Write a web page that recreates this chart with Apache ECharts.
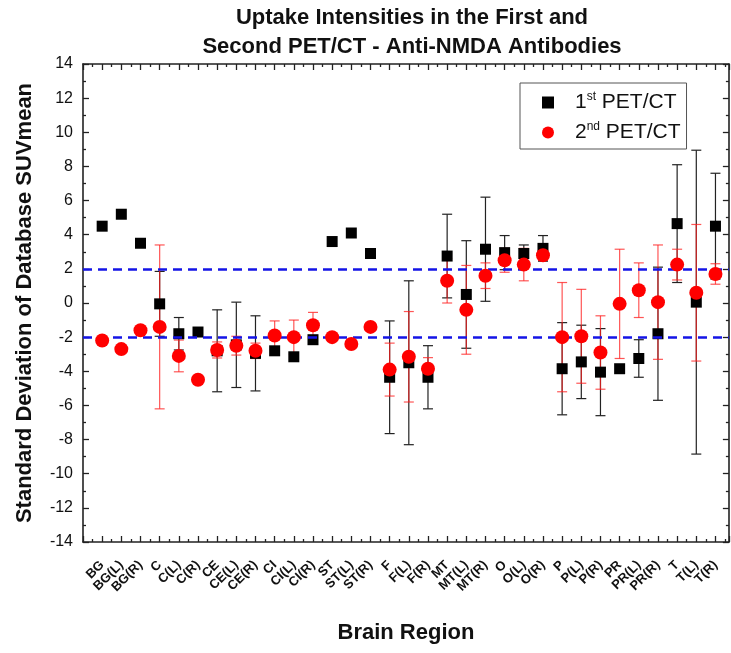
<!DOCTYPE html>
<html>
<head>
<meta charset="utf-8">
<script src="https://cdn.jsdelivr.net/npm/echarts@6/dist/echarts.min.js"></script>
<style>
  html, body { margin: 0; padding: 0; background: #fff; }
  #chart { width: 731px; height: 653px; }
</style>
</head>
<body>
<div id="chart"></div>
<script>
// brain regions, one per x position (1..33)
var regions = ['BG', 'BG(L)', 'BG(R)', 'C', 'C(L)', 'C(R)', 'CE', 'CE(L)', 'CE(R)',
    'CI', 'CI(L)', 'CI(R)', 'ST', 'ST(L)', 'ST(R)', 'F', 'F(L)', 'F(R)',
    'MT', 'MT(L)', 'MT(R)', 'O', 'O(L)', 'O(R)', 'P', 'P(L)', 'P(R)',
    'PR', 'PR(L)', 'PR(R)', 'T', 'T(L)', 'T(R)'];

// 1st PET/CT mean and error (0 = no bar)
var firstMean = [4.5, 5.2, 3.5, -0.05, -1.8, -1.7, -2.8, -2.45, -2.95,
    -2.8, -3.15, -2.15, 3.6, 4.1, 2.9, -4.35, -3.5, -4.35,
    2.75, 0.5, 3.15, 2.95, 2.9, 3.2, -3.85, -3.45, -4.05,
    -3.85, -3.25, -1.8, 4.65, 0.05, 4.5];
var firstErr = [0, 0, 0, 1.9, 0.95, 0, 2.4, 2.5, 2.2,
    0, 0, 0, 0, 0, 0, 3.3, 4.8, 1.85,
    2.45, 3.15, 3.05, 1.0, 0.5, 0.75, 2.7, 2.15, 2.55,
    0, 1.1, 3.9, 3.45, 8.9, 3.1];

// 2nd PET/CT mean and error
var secondMean = [-2.2, -2.7, -1.6, -1.4, -3.1, -4.5, -2.75, -2.5, -2.8,
    -1.9, -2.0, -1.3, -2.0, -2.4, -1.4, -3.9, -3.15, -3.85,
    1.3, -0.4, 1.6, 2.5, 2.25, 2.8, -2.0, -1.95, -2.9,
    -0.05, 0.75, 0.05, 2.25, 0.6, 1.7];
var secondErr = [0, 0, 0, 4.8, 0.93, 0, 0.47, 0.55, 0.45,
    0.85, 1.0, 0.75, 0, 0, 0, 1.55, 2.65, 0.65,
    1.3, 2.6, 0.75, 0.7, 0.95, 0.3, 3.2, 2.75, 2.15,
    3.2, 1.6, 3.35, 0.9, 4.0, 0.6];

var yTicks = [-14, -12, -10, -8, -6, -4, -2, 0, 2, 4, 6, 8, 10, 12, 14];
var limits = [2, -2];

var chart = echarts.init(document.getElementById('chart'));

function points(mean) {
    return mean.map(function (v, i) { return [i + 1, v]; });
}
function errData(mean, err) {
    var out = [];
    mean.forEach(function (v, i) {
        if (err[i] > 0) out.push([i + 1, v - err[i], v + err[i]]);
    });
    return out;
}
function errRender(color) {
    return function (params, api) {
        var lo = api.coord([api.value(0), api.value(1)]);
        var hi = api.coord([api.value(0), api.value(2)]);
        var w = 5;
        var st = { stroke: color, lineWidth: 1.2 };
        return {
            type: 'group',
            children: [
                { type: 'line', shape: { x1: hi[0], y1: hi[1], x2: lo[0], y2: lo[1] }, style: st },
                { type: 'line', shape: { x1: hi[0] - w, y1: hi[1], x2: hi[0] + w, y2: hi[1] }, style: st },
                { type: 'line', shape: { x1: lo[0] - w, y1: lo[1], x2: lo[0] + w, y2: lo[1] }, style: st }
            ]
        };
    };
}

var frameX = {
    type: 'value', min: 0, max: 33.7, interval: 1,
    axisLine: { onZero: false, lineStyle: { color: '#222', width: 1.6 } },
    axisTick: { inside: true, length: 6, lineStyle: { color: '#222', width: 1.3 } },
    minorTick: { show: true, splitNumber: 2, length: 3, lineStyle: { color: '#222', width: 1.3 } },
    splitLine: { show: false }
};

var option = {
    animation: false,
    backgroundColor: '#fff',
    title: {
        text: 'Uptake Intensities in the First and\nSecond PET/CT - Anti-NMDA Antibodies',
        left: 407, top: -2, textAlign: 'center',
        textStyle: {
            fontFamily: 'Liberation Sans, Arial',
            fontSize: 22, fontWeight: 'bold', color: '#111', lineHeight: 29
        }
    },
    legend: {
        orient: 'vertical', left: 520, top: 83,
        padding: [8, 6, 6, 22], itemGap: 8,
        itemWidth: 12, itemHeight: 12,
        borderColor: '#555', borderWidth: 1,
        data: ['1st', '2nd'],
        formatter: function (name) {
            return name === '1st' ? '{n|1}{s|st}{t| PET/CT}' : '{n|2}{s|nd}{t| PET/CT}';
        },
        textStyle: {
            padding: [0, 0, 0, 16],
            rich: {
                n: { fontSize: 21, fontFamily: 'Liberation Sans, Arial', color: '#111' },
                s: { fontSize: 12, fontFamily: 'Liberation Sans, Arial', color: '#111', padding: [0, 0, 11, 0] },
                t: { fontSize: 21, fontFamily: 'Liberation Sans, Arial', color: '#111' }
            }
        }
    },
    grid: { left: 83, top: 64, right: 1, bottom: 111, containLabel: false },
    xAxis: [
        Object.assign({}, frameX, {
            position: 'bottom',
            name: 'Brain Region', nameLocation: 'middle', nameGap: 80,
            nameTextStyle: { fontFamily: 'Liberation Sans, Arial', fontSize: 22, fontWeight: 'bold', color: '#111' },
            axisLabel: {
                rotate: 45, margin: 21, interval: 0,
                fontFamily: 'Liberation Sans, Arial', fontSize: 13, fontWeight: 'bold', color: '#111',
                formatter: function (v) { return regions[Math.round(v) - 1] || ''; }
            }
        }),
        Object.assign({}, frameX, { position: 'top', axisLabel: { show: false } })
    ],
    yAxis: [
        {
            type: 'value', min: -14, max: 14, interval: 2, position: 'left',
            name: 'Standard Deviation of Database SUVmean', nameLocation: 'middle', nameGap: 47,
            nameTextStyle: { fontFamily: 'Liberation Sans, Arial', fontSize: 22, fontWeight: 'bold', color: '#111' },
            axisLine: { show: true, onZero: false, lineStyle: { color: '#222', width: 1.6 } },
            axisTick: { inside: true, length: 6, lineStyle: { color: '#222', width: 1.3 } },
            minorTick: { show: true, splitNumber: 2, length: 3, lineStyle: { color: '#222', width: 1.3 } },
            splitLine: { show: false },
            axisLabel: {
                margin: 10, fontFamily: 'Liberation Sans, Arial', fontSize: 16, color: '#111',
                formatter: function (v) { return yTicks.indexOf(v) >= 0 ? String(v) : ''; }
            }
        },
        {
            type: 'value', min: -14, max: 14, interval: 2, position: 'right',
            axisLine: { show: true, onZero: false, lineStyle: { color: '#222', width: 1.6 } },
            axisTick: { inside: true, length: 6, lineStyle: { color: '#222', width: 1.3 } },
            minorTick: { show: true, splitNumber: 2, length: 3, lineStyle: { color: '#222', width: 1.3 } },
            splitLine: { show: false },
            axisLabel: { show: false }
        }
    ],
    series: [
        {
            name: 'limits', type: 'line', data: [], silent: true,
            markLine: {
                silent: true, symbol: 'none', label: { show: false },
                lineStyle: { color: '#1414e6', width: 2.5, type: [9, 6] },
                data: limits.map(function (v) { return { yAxis: v }; })
            }
        },
        {
            name: 'err1', type: 'custom', renderItem: errRender('#222'),
            data: errData(firstMean, firstErr), z: 2, silent: true
        },
        {
            name: 'err2', type: 'custom', renderItem: errRender('rgba(255,30,30,0.75)'),
            data: errData(secondMean, secondErr), z: 3, silent: true
        },
        {
            name: '1st', type: 'scatter', symbol: 'rect', symbolSize: 11,
            itemStyle: { color: '#000', opacity: 1 },
            data: points(firstMean), z: 4
        },
        {
            name: '2nd', type: 'scatter', symbol: 'circle', symbolSize: 14,
            itemStyle: { color: '#ff0000', opacity: 1 },
            data: points(secondMean), z: 5
        }
    ]
};

chart.setOption(option);
</script>
</body>
</html>
